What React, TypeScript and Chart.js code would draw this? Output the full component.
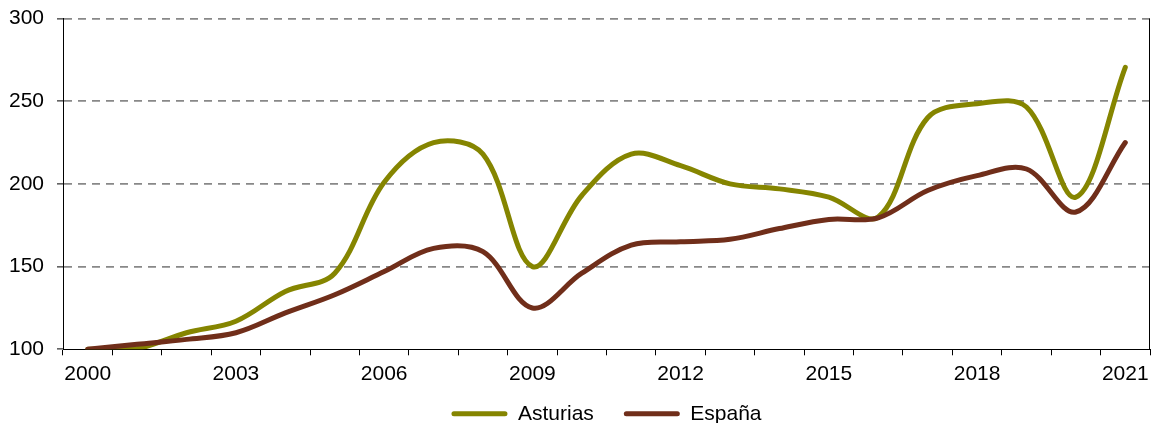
import React, { useEffect, useRef } from "react";
import { Chart, registerables } from "chart.js";

Chart.register(...registerables);

const years = [
  "2000", "2001", "2002", "2003", "2004", "2005", "2006", "2007", "2008", "2009", "2010",
  "2011", "2012", "2013", "2014", "2015", "2016", "2017", "2018", "2019", "2020", "2021",
];
const asturias = [
  100, 100.5, 110, 117, 135, 146, 201, 225, 218, 150, 193,
  218, 211, 200, 197, 192, 180, 240, 248.5, 246.5, 192, 270.5,
];
const espana = [
  100, 103, 106, 110, 122, 133, 147, 161, 159, 125, 146,
  163, 165, 166.5, 173, 178.5, 179.5, 196, 205, 209, 183, 225,
];
const yTicks = [100, 150, 200, 250, 300];

const OLIVE = "#858500";
const BROWN = "#702e1a";
const FONT = "'Liberation Sans', Arial, sans-serif";

export default function App() {
  const ref = useRef<HTMLCanvasElement | null>(null);
  useEffect(() => {
    document.body.style.margin = "0";
    const canvas = ref.current;
    if (!canvas) return;
    const rightBorder = {
      id: "rightBorder",
      beforeDatasetsDraw(chart: any) {
        const { ctx, chartArea } = chart;
        ctx.save();
        ctx.strokeStyle = "#000";
        ctx.lineWidth = 1;
        ctx.beginPath();
        const x = Math.round(chartArea.right) - 0.5;
        ctx.moveTo(x, chartArea.top);
        ctx.lineTo(x, chartArea.bottom);
        ctx.stroke();
        ctx.restore();
      },
    };
    const legendShift = {
      id: "legendShift",
      afterLayout(chart: any) {
        const l = chart.legend;
        if (l) {
          l.top -= 14;
          l.bottom -= 14;
        }
      },
    };
    const chart = new Chart(canvas, {
      type: "line",
      data: {
        labels: years,
        datasets: [
          {
            label: "Asturias",
            data: asturias,
            borderColor: OLIVE,
            backgroundColor: OLIVE,
            borderWidth: 5,
            pointRadius: 0,
            tension: 0.35,
            borderCapStyle: "round",
            borderJoinStyle: "round",
            order: 1,
          },
          {
            label: "España",
            data: espana,
            borderColor: BROWN,
            backgroundColor: BROWN,
            borderWidth: 5,
            pointRadius: 0,
            tension: 0.35,
            borderCapStyle: "round",
            borderJoinStyle: "round",
            order: 0,
          },
        ],
      },
      plugins: [rightBorder, legendShift],
      options: {
        animation: false,
        responsive: false,
        layout: { padding: { left: 0, right: 6, top: 18.5, bottom: -25.3 } },
        scales: {
          x: {
            offset: true,
            grid: {
              display: true,
              offset: true,
              drawOnChartArea: false,
              drawTicks: true,
              tickLength: 6,
              tickColor: "#000",
              color: "#000",
            },
            border: { display: true, color: "#000", width: 1 },
            ticks: {
              autoSkip: false,
              maxRotation: 0,
              minRotation: 0,
              padding: 6,
              color: "#000",
              font: { family: FONT, size: 21 },
              callback: (_v: any, i: number) => (i % 3 === 0 ? years[i] : ""),
            },
            afterFit: (s: any) => {
              s.height = 38;
              s.paddingLeft = 0;
              s.paddingRight = 0;
            },
          },
          y: {
            min: 100,
            max: 300,
            afterBuildTicks: (s: any) => {
              s.ticks = yTicks.map((v) => ({ value: v }));
            },
            grid: {
              color: (c: any) => (c.tick && c.tick.value === 100 ? "rgba(0,0,0,0)" : "#888888"),
              lineWidth: 1.8,
              tickLength: 6,
              tickColor: "#000",
              tickWidth: 1,
            },
            border: { display: true, color: "#000", width: 1, dash: [8, 6] },
            ticks: {
              padding: 13,
              color: "#000",
              font: { family: FONT, size: 21 },
            },
            afterFit: (s: any) => {
              s.width = 63;
              s.paddingTop = 0;
              s.paddingBottom = 0;
            },
          },
        },
        plugins: {
          tooltip: { enabled: false },
          legend: {
            position: "bottom",
            fullSize: false,
            labels: {
              boxWidth: 56,
              boxHeight: 5,
              padding: 30,
              color: "#000",
              font: { family: FONT, size: 21 },
              useBorderRadius: true,
              borderRadius: 2.5,
              sort: (a: any, b: any) => a.datasetIndex - b.datasetIndex,
              generateLabels: (ch: any) =>
                (Chart.defaults.plugins.legend.labels as any)
                  .generateLabels(ch)
                  .map((l: any) => ({ ...l, lineWidth: 0 })),
            },
          },
        },
      } as any,
    });
    return () => chart.destroy();
  }, []);
  return (
    <div style={{ width: 1156, height: 423 }}>
      <canvas ref={ref} width={1156} height={423} style={{ display: "block" }} />
    </div>
  );
}
